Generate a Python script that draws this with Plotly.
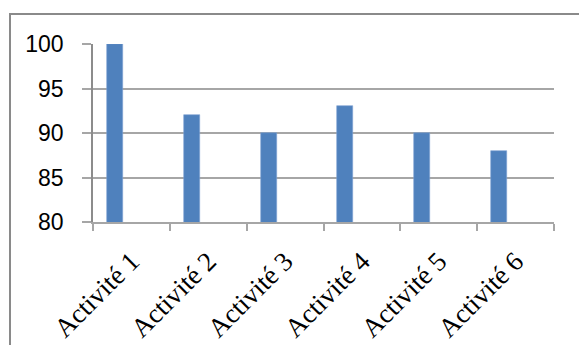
import plotly.graph_objects as go

categories = ["Activité 1", "Activité 2", "Activité 3", "Activité 4", "Activité 5", "Activité 6"]
values = [100, 92, 90, 93, 90, 88]
y_ticks = [80, 85, 90, 95, 100]

W, H = 579, 345
L, R, T, B = 93, 25, 44, 123
pw, ph = W - L - R, H - T - B

def px_x(x):
    return (x - L) / pw

def px_y(y):
    return (H - B - y) / ph

fig = go.Figure()
fig.add_trace(go.Bar(
    x=categories, y=values,
    marker=dict(color="#4f81bd", line=dict(color="#7fa3d3", width=0.6)),
    width=0.21, offset=-0.32,
))

fig.update_layout(
    width=W, height=H,
    margin=dict(l=L, r=R, t=T, b=B),
    paper_bgcolor="white", plot_bgcolor="white",
    showlegend=False,
    bargap=0,
    shapes=[dict(type="rect", xref="paper", yref="paper",
                 x0=px_x(10), x1=px_x(582), y0=px_y(14), y1=px_y(350),
                 line=dict(color="#8a8a8a", width=2), fillcolor="rgba(0,0,0,0)", layer="below")],
)
fig.update_yaxes(
    range=[80, 100], tickvals=y_ticks,
    showgrid=True, gridcolor="#a6a6a6", gridwidth=1.5,
    showline=True, linecolor="#8c8c8c", linewidth=1.5,
    ticks="outside", ticklen=9, tickcolor="#a6a6a6", tickwidth=1.5,
    tickfont=dict(family="Liberation Sans", size=23, color="black"),
    ticklabelstandoff=14, zeroline=False, automargin=False,
)
fig.update_xaxes(
    showgrid=False, showline=True, linecolor="#a6a6a6", linewidth=1.5,
    ticks="outside", ticklen=7, tickcolor="#a6a6a6", tickwidth=1.5,
    tickson="boundaries",
    tickangle=-45,
    tickfont=dict(family="Liberation Serif", size=27, color="black"),
    ticklabelstandoff=11, automargin=False,
)

fig.write_html("out.html")
